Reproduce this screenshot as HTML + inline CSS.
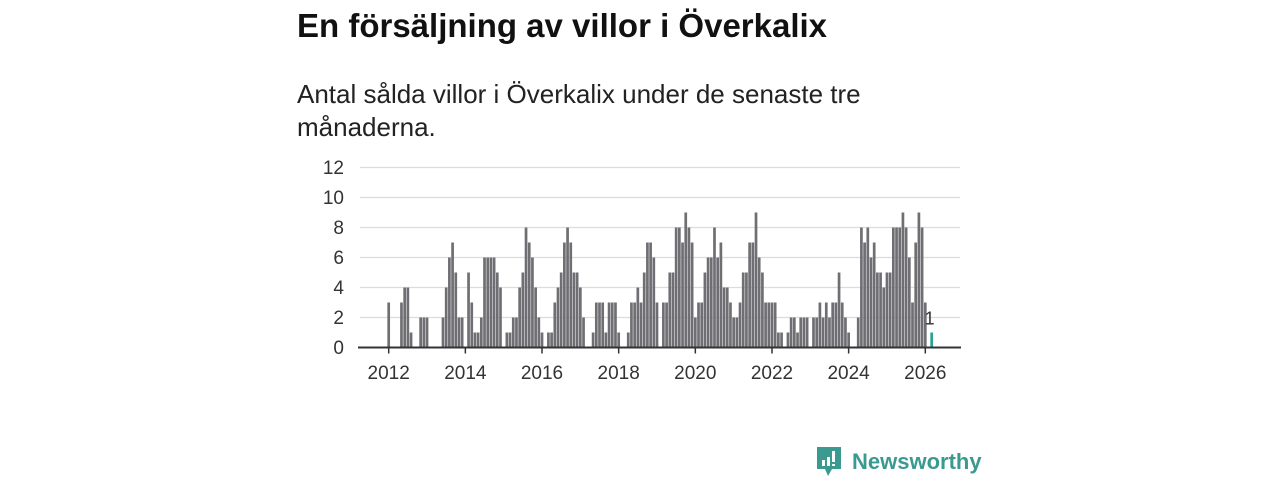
<!DOCTYPE html>
<html><head><meta charset="utf-8">
<style>
body{margin:0;background:#fff;width:1280px;height:480px;overflow:hidden;font-family:"Liberation Sans",sans-serif;}
#title{position:absolute;left:297px;top:7px;font-size:33px;font-weight:bold;color:#111;margin:0;}
#sub{position:absolute;left:297px;top:78px;font-size:26px;line-height:33px;color:#222;width:640px;margin:0}
#chart{position:absolute;left:0;top:0}
#logo{position:absolute;left:815px;top:445px;display:flex;align-items:center}
#logo span{font-size:22px;font-weight:bold;color:#3a9a8f;margin-left:9px;}
</style></head><body>
<h1 id="title">En försäljning av villor i Överkalix</h1>
<p id="sub">Antal sålda villor i Överkalix under de senaste tre månaderna.</p>
<svg id="chart" width="1280" height="480"></svg>
<div id="logo">
<svg width="28" height="34"><path d="M2 2h24v22h-9l-4 7-3-7H2z" fill="#3a9a8f"/><rect x="7" y="15" width="3" height="6" fill="#fff"/><rect x="12" y="12" width="3" height="9" fill="#fff"/><rect x="17" y="6" width="3" height="11" fill="#fff"/><rect x="17" y="19" width="3" height="2" fill="#fff"/></svg>
<span>Newsworthy</span></div>
<script>
const values=[3,0,0,0,3,4,4,1,0,0,2,2,2,0,0,0,0,2,4,6,7,5,2,2,0,5,3,1,1,2,6,6,6,6,5,4,0,1,1,2,2,4,5,8,7,6,4,2,1,0,1,1,3,4,5,7,8,7,5,5,4,2,0,0,1,3,3,3,1,3,3,3,1,0,0,1,3,3,4,3,5,7,7,6,3,0,3,3,5,5,8,8,7,9,8,7,2,3,3,5,6,6,8,6,7,4,4,3,2,2,3,5,5,7,7,9,6,5,3,3,3,3,1,1,0,1,2,2,1,2,2,2,0,2,2,3,2,3,2,3,3,5,3,2,1,0,0,2,8,7,8,6,7,5,5,4,5,5,8,8,8,9,8,6,3,7,9,8,3,0,1];
const yTicks=[0,2,4,6,8,10,12];
const xTickYears=[2012,2014,2016,2018,2020,2022,2024,2026];
const startYear=2012;
const svg=document.getElementById('chart');
const NS='http://www.w3.org/2000/svg';
const x0=388.7,pxMonth=3.194,y0=347.5,pxUnit=15;
const xs=i=>x0+i*pxMonth;
const ys=v=>y0-v*pxUnit;
function mk(t,a){const e=document.createElementNS(NS,t);for(const k in a)e.setAttribute(k,a[k]);svg.appendChild(e);return e;}
yTicks.forEach(v=>{
  if(v>0){const g=mk('line',{x1:360,x2:960,y1:ys(v),y2:ys(v),stroke:'#dcdcdc','stroke-width':1.3});
  
  }
  const t=mk('text',{x:344,y:ys(v)+6.5,'text-anchor':'end','font-size':19,fill:'#333','font-family':'Liberation Sans, sans-serif'});
  t.textContent=v;
  
  
});
const last=values.length-1;
values.forEach((v,i)=>{
  if(v<=0)return;
  const r=mk('rect',{x:xs(i)-1.35,y:ys(v),width:2.7,height:v*pxUnit,fill:i===last?'#2aa198':'#6f6f73'});
  
  
});
const lbl=mk('text',{x:xs(last)-2,y:ys(values[last])-8,'text-anchor':'middle','font-size':18,fill:'#333','font-family':'Liberation Sans, sans-serif'});
lbl.textContent=values[last];


const ax=mk('line',{x1:358,x2:961,y1:y0,y2:y0,stroke:'#333','stroke-width':2});


xTickYears.forEach(yr=>{
  const x=xs((yr-startYear)*12);
  const tk=mk('line',{x1:x,x2:x,y1:y0,y2:y0+6,stroke:'#333','stroke-width':1.5});
  
  
  const t=mk('text',{x:x,y:379,'text-anchor':'middle','font-size':19,fill:'#333','font-family':'Liberation Sans, sans-serif'});
  t.textContent=yr;
  
  
});
</script>
</body></html>
